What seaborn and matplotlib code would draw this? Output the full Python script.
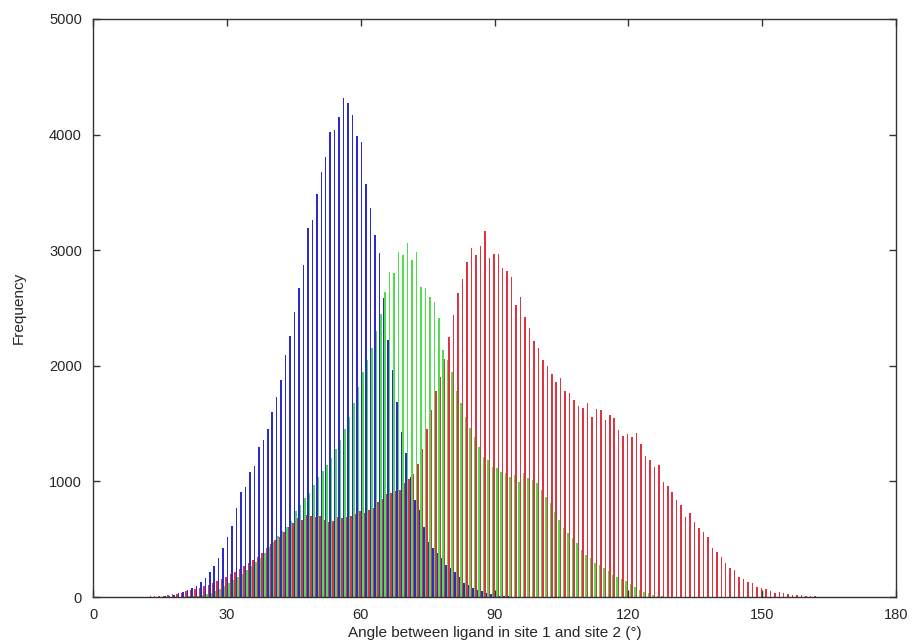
import numpy as np
import pandas as pd
import matplotlib
matplotlib.use("Agg")
import matplotlib.pyplot as plt
import seaborn as sns

# histogram counts per 1-degree bin, starting at the given angle
blue_start = 16
blue_counts = [6, 12, 20, 32, 45, 60, 75, 98, 127, 162,
               214, 268, 339, 426, 522, 617, 772, 906, 949, 1084,
               1136, 1295, 1358, 1453, 1598, 1727, 1877, 2090, 2260, 2468,
               2670, 2872, 3195, 3261, 3483, 3679, 3803, 4019, 4039, 4155,
               4314, 4276, 4169, 3990, 3938, 3570, 3362, 3131, 2973, 2587,
               2223, 1964, 1689, 1430, 1245, 1041, 839, 752, 608, 478,
               421, 380, 335, 277, 248, 219, 176, 121, 104, 78,
               65, 52, 35, 30, 20, 12, 8, 5]

green_start = 20
green_counts = [3, 5, 8, 11, 15, 25, 35, 50, 70, 95,
                125, 150, 175, 200, 235, 270, 300, 340, 380, 430,
                480, 530, 570, 610, 660, 740, 800, 860, 900, 970,
                1040, 1090, 1140, 1200, 1280, 1360, 1450, 1560, 1680, 1820,
                1950, 2050, 2150, 2300, 2450, 2641, 2814, 2800, 2987, 2958,
                3059, 2915, 2987, 2684, 2670, 2598, 2554, 2411, 2137, 2050,
                1950, 1780, 1680, 1560, 1460, 1380, 1300, 1213, 1185, 1127,
                1112, 1084, 1070, 1041, 1055, 998, 1070, 1026, 1012, 983,
                926, 868, 811, 738, 666, 594, 551, 508, 464, 407,
                363, 335, 292, 277, 248, 225, 190, 176, 160, 135,
                110, 85, 60, 45, 32, 20, 12, 7, 4]

red_start = 10
red_counts = [2, 4, 6, 8, 10, 13, 17, 22, 30, 38,
              48, 58, 70, 82, 95, 108, 122, 140, 155, 175,
              195, 215, 240, 265, 290, 320, 350, 380, 420, 460,
              490, 515, 560, 610, 640, 680, 670, 710, 700, 690,
              700, 670, 650, 660, 690, 680, 690, 700, 720, 740,
              730, 750, 770, 820, 850, 890, 900, 920, 930, 990,
              1020, 1060, 1150, 1280, 1450, 1620, 1780, 1900, 2060, 2250,
              2439, 2627, 2748, 2895, 3022, 2958, 3036, 3168, 2930, 2967,
              2964, 2843, 2823, 2771, 2526, 2592, 2425, 2324, 2217, 2151,
              2050, 1998, 1926, 1862, 1891, 1785, 1768, 1704, 1655, 1632,
              1675, 1560, 1623, 1618, 1531, 1574, 1546, 1445, 1393, 1410,
              1387, 1416, 1321, 1220, 1185, 1122, 1142, 992, 960, 906,
              839, 798, 695, 724, 646, 594, 565, 522, 427, 392,
              343, 291, 248, 234, 176, 156, 133, 118, 84, 75,
              67, 52, 32, 46, 32, 24, 20, 17, 14, 12,
              6, 5, 3]

series_names = ["blue", "green", "red"]
series_colors = ["#2b2bc8", "#4fdc4f", "#dc3440"]

frames = []
for name, start, counts in [("blue", blue_start, blue_counts),
                            ("green", green_start, green_counts),
                            ("red", red_start, red_counts)]:
    angles = np.arange(start, start + len(counts)) + 0.5
    frames.append(pd.DataFrame({"angle": angles, "count": counts, "series": name}))
df = pd.concat(frames, ignore_index=True)

sns.set_style("ticks")
plt.rcParams['font.family'] = ['Liberation Sans', 'DejaVu Sans']

fig = plt.figure(figsize=(9.13, 6.43), dpi=100)
ax = fig.add_axes([0.1019, 0.0715, 0.8795, 0.899])

sns.histplot(data=df, x="angle", weights="count", hue="series",
             hue_order=series_names, palette=series_colors,
             binwidth=1, binrange=(0, 180), multiple="dodge", shrink=1,
             element="bars", alpha=1, linewidth=0, legend=False, ax=ax)

ax.set_xlim(0, 180)
ax.set_ylim(0, 5000)
ax.set_xticks(range(0, 181, 30))
ax.set_yticks(range(0, 5001, 1000))
ax.tick_params(direction="in", top=True, right=True, length=5, width=1,
               labelsize=10.5, color="#333333", pad=8)
for s in ax.spines.values():
    s.set_color("#333333")
    s.set_linewidth(1)

ax.set_xlabel("Angle between ligand in site 1 and site 2 (°)", fontsize=11, labelpad=3)
ax.set_ylabel("Frequency", fontsize=11, labelpad=17)

fig.savefig("out.png", dpi=100)
